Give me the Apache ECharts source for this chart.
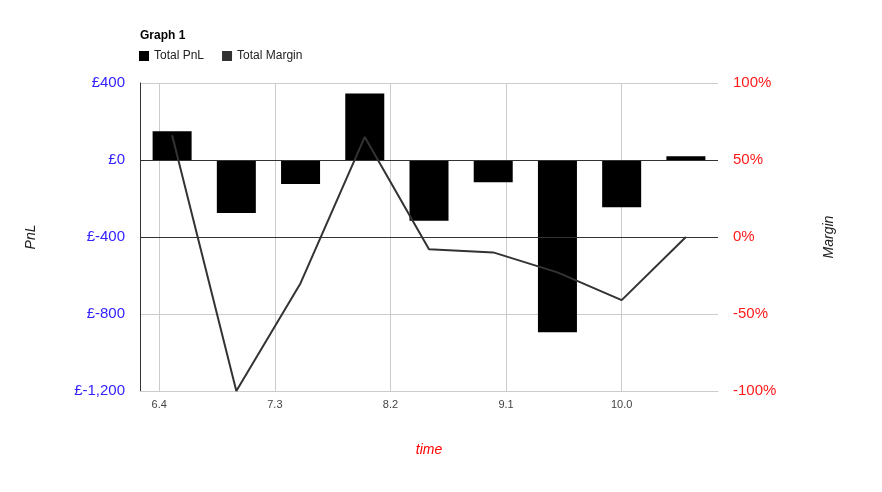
<!DOCTYPE html>
<html>
<head>
<meta charset="utf-8">
<script src="https://cdn.jsdelivr.net/npm/echarts@6/dist/echarts.min.js"></script>
<style>html,body{margin:0;padding:0;background:#fff}#c{width:882px;height:492px}</style>
</head>
<body>
<div id="c"></div>
<script>
const times = [6.5, 7.0, 7.5, 8.0, 8.5, 9.0, 9.5, 10.0, 10.5];
const totalPnL = [150, -275, -125, 345, -315, -115, -895, -245, 20];
const totalMargin = [66, -100, -30, 65, -8, -10, -23, -41, 0];
const xTicks = [6.4, 7.3, 8.2, 9.1, 10.0];

const font = 'Liberation Sans, Arial, sans-serif';
const chart = echarts.init(document.getElementById('c'));
chart.setOption({
  animation: false,
  backgroundColor: '#fff',
  textStyle: { fontFamily: font },
  title: {
    text: 'Graph 1', left: 135, top: 25,
    textStyle: { fontSize: 12, fontWeight: 'bold', color: '#000', fontFamily: font }
  },
  legend: {
    left: 134, top: 45, itemWidth: 10, itemHeight: 10, itemGap: 18,
    textStyle: { fontSize: 12, color: '#222', fontFamily: font },
    data: [
      { name: 'Total PnL', icon: 'rect', itemStyle: { color: '#000' } },
      { name: 'Total Margin', icon: 'rect', itemStyle: { color: '#333' } }
    ]
  },
  grid: { left: 140, right: 164, top: 83, bottom: 101, containLabel: false },
  xAxis: {
    type: 'value', min: 6.25, max: 10.75,
    name: 'time', nameLocation: 'middle', nameGap: 52,
    nameTextStyle: { color: '#ff0000', fontStyle: 'italic', fontSize: 14, fontFamily: font },
    axisLine: { show: true, onZero: false, lineStyle: { color: '#ccc' } },
    axisTick: { show: false, customValues: xTicks },
    axisLabel: { customValues: xTicks, fontSize: 11, color: '#444', margin: 8,
      formatter: v => v.toFixed(1) },
    splitLine: { show: true, lineStyle: { color: '#ccc' } }
  },
  yAxis: [
    {
      type: 'value', min: -1200, max: 400, interval: 400, position: 'left',
      name: 'PnL', nameLocation: 'middle', nameGap: 102, nameRotate: 90,
      nameTextStyle: { color: '#222', fontStyle: 'italic', fontSize: 14, fontFamily: font },
      axisLine: { show: true, lineStyle: { color: '#333' } },
      axisTick: { show: false },
      axisLabel: { fontSize: 15, color: '#3322ff', margin: 15,
        formatter: v => '£' + v.toLocaleString('en-US') },
      splitLine: { show: true, lineStyle: { color: '#ccc' } }
    },
    {
      type: 'value', min: -100, max: 100, interval: 50, position: 'right',
      name: 'Margin', nameLocation: 'middle', nameGap: 104, nameRotate: 90,
      nameTextStyle: { color: '#222', fontStyle: 'italic', fontSize: 14, fontFamily: font },
      axisLine: { show: false },
      axisTick: { show: false },
      axisLabel: { fontSize: 15, color: '#ff1a1a', margin: 15,
        formatter: v => v + '%' },
      splitLine: { show: false }
    }
  ],
  series: [
    {
      name: 'Total PnL', type: 'bar', yAxisIndex: 0, barWidth: 39,
      itemStyle: { color: '#000' },
      data: times.map((t, i) => [t, totalPnL[i]]),
      markLine: { silent: true, symbol: 'none', label: { show: false },
        lineStyle: { color: '#333', width: 1, type: 'solid' },
        data: [{ yAxis: 0 }] },
      z: 2
    },
    {
      name: 'Total Margin', type: 'line', yAxisIndex: 1,
      showSymbol: false, symbol: 'none',
      lineStyle: { color: '#333', width: 2 },
      itemStyle: { color: '#333' },
      data: times.map((t, i) => [t, totalMargin[i]]),
      markLine: { silent: true, symbol: 'none', label: { show: false },
        lineStyle: { color: '#333', width: 1, type: 'solid' },
        data: [{ yAxis: 0 }] },
      z: 3
    }
  ]
});
</script>
</body>
</html>
